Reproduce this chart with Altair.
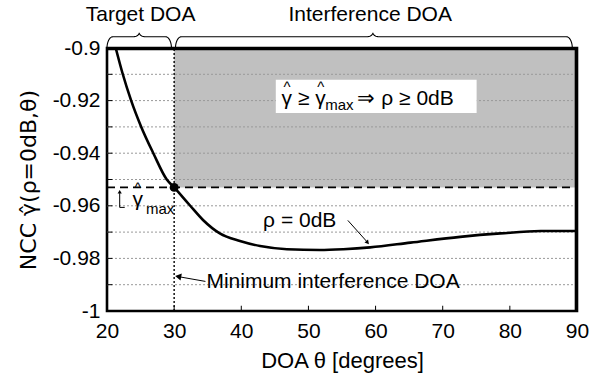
import altair as alt
import pandas as pd
import numpy as np

# ---- data ----
theta = [21.3, 22.3, 23.6, 25.1, 26.9, 28.9, 30.0, 32.3, 34.3, 36.8, 39.8, 42.8,
         46.8, 51.7, 55.2, 59.2, 65.2, 72.6, 78.6, 84.6, 90.0]
ncc = [-0.9, -0.9095, -0.92, -0.93, -0.94, -0.95, -0.953, -0.9597, -0.9654, -0.9705,
       -0.9734, -0.9753, -0.9765, -0.9768, -0.9765, -0.9758, -0.974, -0.9718, -0.9705,
       -0.9696, -0.9696]
x_ticks = [20, 30, 40, 50, 60, 70, 80, 90]
y_ticks = [-1.0, -0.99, -0.98, -0.97, -0.96, -0.95, -0.94, -0.93, -0.92, -0.91, -0.9]
gamma_max = -0.953
theta_min = 30
x_lo, x_hi = 20, 90
y_lo, y_hi = -1.0, -0.9

# braces: (start, end, tip)
brace_target = [20.0, 29.6, 24.8]
brace_interf = [30.2, 89.3, 59.6]
brace_levels = [-0.9, -0.8957, -0.8942]  # ends, body, tip

FONT = "Liberation Sans"
xs = alt.Scale(domain=[x_lo, x_hi], nice=False, zero=False)
ys = alt.Scale(domain=[y_lo, y_hi], nice=False, zero=False)

AX = alt.Axis(
    values=x_ticks, title="DOA θ [degrees]", ticks=False, domain=False, grid=False,
    labelFontSize=21, labelPadding=9, titleFontSize=22, titlePadding=9, format="d",
    labelFlush=False,
    labelFont=FONT, titleFont=FONT, titleFontWeight="normal",
    labelColor="black", titleColor="black")
AY = alt.Axis(
    values=y_ticks,
    labelExpr="(abs(round(datum.value*100)) % 2 == 0) ? ('' + datum.value) : ''",
    title="NCC γ̂(ρ=0dB,θ)", ticks=False, domain=False, grid=False,
    labelFontSize=21, labelPadding=7, titleFontSize=22, titlePadding=12,
    labelFlush=False,
    labelFont=FONT, titleFont="DejaVu Sans", titleFontWeight="normal",
    labelColor="black", titleColor="black")


def X(f="x"):
    return alt.X(f"{f}:Q", scale=xs, axis=AX)


def Y(f="y"):
    return alt.Y(f"{f}:Q", scale=ys, axis=AY)


# ---- main curve ----
curve_df = pd.DataFrame({"x": theta, "y": ncc})
curve = alt.Chart(curve_df).mark_line(color="black", strokeWidth=2.6, interpolate="monotone").encode(
    x=X(), y=Y())

# shaded region
shade_df = pd.DataFrame({"x": [theta_min], "x2": [x_hi], "y": [gamma_max], "y2": [y_hi]})
shade = alt.Chart(shade_df).mark_rect(color="#c0c0c0").encode(
    x=X(), x2="x2:Q", y=Y(), y2="y2:Q")

# grid lines
grid_df = pd.DataFrame({"y": y_ticks[1:-1], "x": x_lo, "x2": x_hi})
grid = alt.Chart(grid_df).mark_rule(color="#999999", strokeWidth=1, strokeDash=[2, 2]).encode(
    x=X(), x2="x2:Q", y=Y())

# white box
box_df = pd.DataFrame({"x": [45.14], "x2": [75.05], "y": [-0.92472], "y2": [-0.91205]})
box = alt.Chart(box_df).mark_rect(color="white").encode(x=X(), x2="x2:Q", y=Y(), y2="y2:Q")

# dashed gamma_max line
hline_df = pd.DataFrame({"x": [x_lo], "x2": [x_hi], "y": [gamma_max]})
hline = alt.Chart(hline_df).mark_rule(color="black", strokeWidth=1.8, strokeDash=[8, 5]).encode(
    x=X(), x2="x2:Q", y=Y())

# dotted vertical at theta_min
vline_df = pd.DataFrame({"x": [theta_min], "y": [y_lo], "y2": [y_hi]})
vline = alt.Chart(vline_df).mark_rule(color="black", strokeWidth=1.4, strokeDash=[2, 2]).encode(
    x=X(), y=Y(), y2="y2:Q")

# dot
dot_df = pd.DataFrame({"x": [theta_min], "y": [gamma_max]})
dot = alt.Chart(dot_df).mark_point(filled=True, color="black", size=80, opacity=1).encode(x=X(), y=Y())

# inward ticks
xt_df = pd.DataFrame({"x": x_ticks[1:-1], "y": y_lo, "y2": y_lo + 0.002})
xt = alt.Chart(xt_df).mark_rule(color="black", strokeWidth=1).encode(x=X(), y=Y(), y2="y2:Q")
yt_df = pd.DataFrame({"y": y_ticks[1:-1], "x": x_lo, "x2": x_lo + 0.8})
yt = alt.Chart(yt_df).mark_rule(color="black", strokeWidth=1).encode(x=X(), x2="x2:Q", y=Y())

# right and top edges of the plot frame
frame_df = pd.DataFrame({
    "x": [89.85, 20.0],
    "x2": [89.85, 90.0],
    "y": [-1.0, -0.9004],
    "y2": [-0.9, -0.9004],
})
frame = alt.Chart(frame_df).mark_rule(color="black", strokeWidth=2.6).encode(
    x=X(), x2="x2:Q", y=Y(), y2="y2:Q")


# braces
def brace_points(x0, x1, xc, name):
    yb, ym, ytip = brace_levels
    rx = 0.9
    rx2 = 0.9
    t = np.linspace(0, np.pi / 2, 10)
    px = np.concatenate([
        x0 + rx * (1 - np.cos(t)),
        xc - rx2 + rx2 * np.sin(t),
        xc + rx2 * (1 - np.cos(t)),
        x1 - rx + rx * np.sin(t),
    ])
    py = np.concatenate([
        yb + (ym - yb) * np.sin(t),
        ym + (ytip - ym) * (1 - np.cos(t)),
        ytip - (ytip - ym) * np.sin(t),
        ym - (ym - yb) * (1 - np.cos(t)),
    ])
    return pd.DataFrame({"x": px, "y": py, "i": np.arange(len(px)), "b": name})


br_df = pd.concat([brace_points(*brace_target, "t"), brace_points(*brace_interf, "i")])
braces = alt.Chart(br_df).mark_line(color="black", strokeWidth=1.1).encode(
    x=X(), y=Y(), order="i:Q", detail="b:N")

# arrow shafts
arr_df = pd.DataFrame({
    "x": [55.87, 34.66, 21.89, 21.89],
    "x2": [58.7, 31.0, 21.89, 22.64],
    "y": [-0.96555, -0.98875, -0.96061, -0.96061],
    "y2": [-0.9736, -0.9871, -0.9552, -0.96061],
})
arrows = alt.Chart(arr_df).mark_rule(color="black", strokeWidth=1).encode(
    x=X(), x2="x2:Q", y=Y(), y2="y2:Q")

head_df = pd.DataFrame({
    "x": [58.75, 30.75, 21.89],
    "y": [-0.9738, -0.98695, -0.9549],
    "a": [139, 280, 0],
    "s": [22, 50, 18],
})
heads = alt.Chart(head_df).mark_point(shape="triangle", filled=True, color="black", opacity=1).encode(
    x=X(), y=Y(), angle=alt.Angle("a:Q", scale=None), size=alt.Size("s:Q", scale=None))


# texts
def text_layer(xv, yv, label, size, align="left", baseline="alphabetic"):
    df = pd.DataFrame({"x": [xv], "y": [yv], "t": [label]})
    return alt.Chart(df).mark_text(font=FONT, fontSize=size, align=align, baseline=baseline,
                                   color="black").encode(x=X(), y=Y(), text="t:N")


texts = [
    text_layer(25.0, -0.88973, "Target DOA", 21, align="center"),
    text_layer(59.2, -0.88973, "Interference DOA", 21, align="center"),
    text_layer(46.0, -0.92183, "γ ≥ γ", 21),
    text_layer(46.8, -0.9168, "^", 15, align="center"),
    text_layer(51.85, -0.9168, "^", 15, align="center"),
    text_layer(52.5, -0.92346, "max", 15),
    text_layer(57.3, -0.92183, "⇒ ρ ≥ 0dB", 21),
    text_layer(43.25, -0.96806, "ρ = 0dB", 21),
    text_layer(34.81, -0.99125, "Minimum interference DOA", 21),
    text_layer(23.8, -0.96005, "γ", 21),
    text_layer(24.6, -0.9551, "^", 15, align="center"),
    text_layer(25.8, -0.96323, "max", 15),
]

chart = alt.layer(shade, grid, box, hline, vline, xt, yt, curve, dot, braces, arrows, heads, frame,
                  *texts).properties(
    width=470, height=263,
    autosize=alt.AutoSizeParams(type="none"),
    padding={"left": 107, "top": 48, "right": 31, "bottom": 67},
).configure(font=FONT, background="white").configure_view(stroke="black", strokeWidth=2.6)

chart.save("out.html", embed_options={"renderer": "svg", "actions": False})
